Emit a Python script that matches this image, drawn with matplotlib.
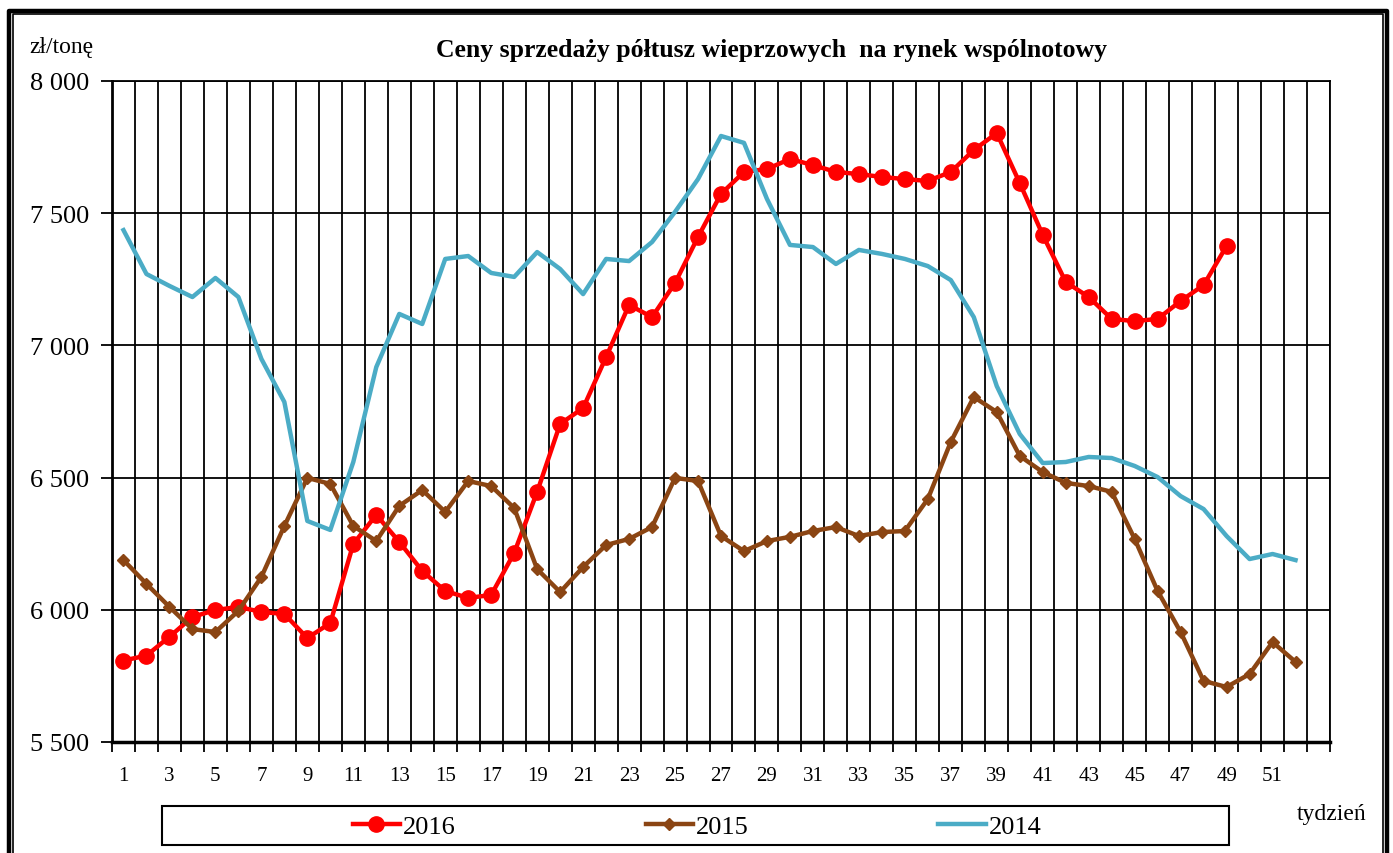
import matplotlib
matplotlib.use("Agg")
import numpy as np
import matplotlib.pyplot as plt
from matplotlib.lines import Line2D
from matplotlib.patches import Rectangle

# Data (zl/tone per week)
weeks = np.arange(1, 54)  # 53 category slots, last one empty
p2016 = [5808, 5827, 5898, 5973, 5999, 6011, 5992, 5984, 5893, 5950,
         6249, 6359, 6257, 6147, 6071, 6045, 6056, 6215, 6446, 6703,
         6763, 6956, 7153, 7107, 7236, 7410, 7573, 7656, 7667, 7705,
         7682, 7656, 7648, 7637, 7629, 7622, 7656, 7739, 7803, 7614,
         7418, 7240, 7183, 7100, 7092, 7100, 7168, 7228, 7376]
p2015 = [6188, 6098, 6011, 5927, 5916, 5996, 6124, 6317, 6499, 6476,
         6317, 6260, 6393, 6453, 6370, 6487, 6468, 6385, 6154, 6067,
         6162, 6245, 6268, 6313, 6499, 6487, 6279, 6222, 6260, 6276,
         6298, 6313, 6279, 6294, 6298, 6419, 6635, 6805, 6748, 6582,
         6521, 6480, 6468, 6446, 6268, 6071, 5916, 5731, 5708, 5757,
         5878, 5803]
p2014 = [7436, 7270, 7225, 7183, 7255, 7183, 6949, 6786, 6336, 6302,
         6559, 6918, 7119, 7081, 7327, 7338, 7274, 7259, 7353, 7289,
         7194, 7327, 7319, 7391, 7505, 7629, 7792, 7766, 7554, 7380,
         7372, 7308, 7361, 7346, 7327, 7300, 7247, 7107, 6846, 6665,
         6555, 6559, 6578, 6574, 6544, 6502, 6430, 6381, 6279, 6192,
         6211, 6188]
xlabels = [str(w) for w in range(1, 52, 2)]
yticks = [5500, 6000, 6500, 7000, 7500, 8000]
ylabels = ["5 500", "6 000", "6 500", "7 000", "7 500", "8 000"]

W, H = 1393, 854
fig = plt.figure(figsize=(W / 100, H / 100), dpi=100)
plt.rcParams['font.family'] = ['Liberation Serif', 'DejaVu Serif']


def fx(x):
    return x / W


def fy(y):
    return 1 - y / H


ax = fig.add_axes([fx(112), fy(743), fx(1330) - fx(112), fy(82) - fy(743)])

ax.plot(np.arange(1, len(p2016) + 1), p2016, color="#FF0000", lw=3.2,
        marker="o", ms=11, label="2016", zorder=3)
ax.plot(np.arange(1, len(p2015) + 1), p2015, color="#8B4513", lw=3.2,
        marker="D", ms=6.5, label="2015", zorder=4)
ax.plot(np.arange(1, len(p2014) + 1), p2014, color="#4BACC6", lw=3.2,
        label="2014", zorder=5)

ax.set_xlim(0.5, 53.5)
ax.set_ylim(5500, 8000)
ax.set_xticks(np.arange(0.5, 54, 1.0))
ax.set_xticklabels([])
ax.set_xticks(np.arange(1, 52, 2), minor=True)
ax.set_xticklabels(xlabels, minor=True, fontsize=15)
ax.tick_params(axis="x", which="major", length=7, width=1.3, direction="out")
ax.tick_params(axis="x", which="minor", length=0, pad=17)
ax.set_yticks(yticks)
ax.set_yticklabels(ylabels, fontsize=19)
ax.tick_params(axis="y", length=8, width=1.3, pad=8.5)
ax.grid(True, which="major", color="black", lw=1.3)
ax.set_axisbelow(True)
for s in ["top", "right"]:
    ax.spines[s].set_linewidth(1.3)
ax.spines["left"].set_linewidth(2)
ax.spines["bottom"].set_linewidth(2.5)

fig.text(fx(771), fy(50), "Ceny sprzedaży półtusz wieprzowych  na rynek wspólnotowy",
         ha="center", va="center", fontsize=18.5, fontweight="bold")
fig.text(fx(29), fy(48), "zł/tonę", ha="left", va="center", fontsize=17)
fig.text(fx(1332), fy(815), "tydzień", ha="center", va="center", fontsize=17)

# legend box and entries
fig.add_artist(Rectangle((fx(162), fy(846)), fx(1229) - fx(162), fy(807) - fy(846),
                         transform=fig.transFigure, fill=False, ec="black", lw=1.5))
fig.legend(loc="center", bbox_to_anchor=(fx(697), fy(827)), ncol=3, frameon=False,
           fontsize=19, handlelength=1.8, handletextpad=0.1, columnspacing=7.2,
           borderpad=0)

# double outer frame
for (x0, y0, x1, y1, lw) in [(9, 11.5, 1387, 870, 3.2), (13, 15, 1383, 870, 1.2)]:
    fig.add_artist(Line2D([fx(x0), fx(x0), fx(x1), fx(x1)],
                          [fy(y1), fy(y0), fy(y0), fy(y1)],
                          transform=fig.transFigure, color="black", lw=lw))

fig.savefig("out.png", dpi=100)
